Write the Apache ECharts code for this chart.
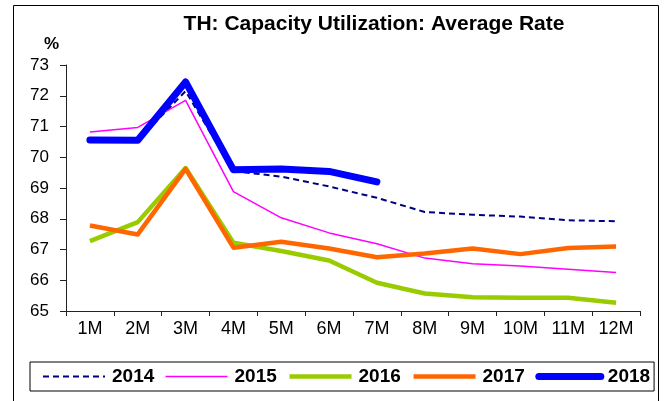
<!DOCTYPE html>
<html><head><meta charset="utf-8">
<script src="https://cdn.jsdelivr.net/npm/echarts@6/dist/echarts.min.js"></script>
<style>html,body{margin:0;padding:0;background:#fff}#c{width:667px;height:401px}</style>
</head><body><div id="c"></div>
<script>
var categories = ['1M','2M','3M','4M','5M','6M','7M','8M','9M','10M','11M','12M'];
var yTicks = [65, 66, 67, 68, 69, 70, 71, 72, 73];
var s2014 = [70.62, 70.55, 72.15, 69.55, 69.37, 69.05, 68.68, 68.22, 68.13, 68.07, 67.95, 67.92];
var s2015 = [70.82, 70.97, 71.85, 68.88, 68.03, 67.54, 67.19, 66.72, 66.54, 66.46, 66.36, 66.25];
var s2016 = [67.27, 67.89, 69.65, 67.22, 66.95, 66.64, 65.92, 65.57, 65.45, 65.43, 65.43, 65.27];
var s2017 = [67.78, 67.49, 69.62, 67.06, 67.25, 67.03, 66.75, 66.87, 67.03, 66.85, 67.05, 67.10];
var s2018 = [70.56, 70.55, 72.45, 69.59, 69.62, 69.54, 69.20, null, null, null, null, null];
var seriesNames = ['2014','2015','2016','2017','2018'];

var FONT = '"Liberation Sans", Arial, sans-serif';
var chart = echarts.init(document.getElementById('c'), null, {renderer: 'canvas'});
function mk(name, data, color, width, type, cap) {
  return {
    name: name, type: 'line', data: data, symbol: 'none', showSymbol: false,
    connectNulls: false, animation: false,
    lineStyle: {color: color, width: width, type: type || 'solid', cap: cap || 'butt', join: 'round'},
    itemStyle: {color: color}
  };
}
chart.setOption({
  backgroundColor: '#fff',
  animation: false,
  title: {
    text: 'TH: Capacity Utilization: Average Rate',
    left: 369, top: 9, textAlign: 'center',
    textStyle: {fontFamily: FONT, fontWeight: 'bold', fontSize: 21, color: '#000'}
  },
  graphic: [
    {type: 'rect', shape: {x: 13.5, y: 5.5, width: 645, height: 400}, style: {fill: 'none', stroke: '#000', lineWidth: 1}, silent: true},
    {type: 'text', left: 44, top: 36, style: {text: '%', fontFamily: FONT, fontWeight: 'bold', fontSize: 17, fill: '#000'}}
  ],
  legend: {
    data: seriesNames,
    left: 30, top: 362, width: 626,
    padding: [5, 4, 5, 12],
    itemGap: 10.5, itemWidth: 62, itemHeight: 14,
    borderColor: '#000', borderWidth: 1,
    itemStyle: {color: 'transparent', borderColor: 'transparent', borderWidth: 0, opacity: 0},
    lineStyle: {width: 'inherit', type: 'inherit', color: 'inherit', cap: 'inherit'},
    textStyle: {fontFamily: FONT, fontWeight: 'bold', fontSize: 19, color: '#000', padding: [0,0,0,2]}
  },
  grid: {left: 66, right: 27, top: 65, bottom: 90, containLabel: false},
  xAxis: {
    type: 'category', data: categories, boundaryGap: true,
    axisLine: {lineStyle: {color: '#222', width: 1}},
    axisTick: {show: true, length: 5, inside: false, lineStyle: {color: '#222'}},
    axisLabel: {fontFamily: FONT, fontSize: 18, color: '#000', margin: 9},
    splitLine: {show: false}
  },
  yAxis: {
    type: 'value', min: yTicks[0], max: yTicks[yTicks.length-1], interval: 1,
    axisLine: {show: true, lineStyle: {color: '#222', width: 1}},
    axisTick: {show: true, length: 6, inside: false, lineStyle: {color: '#222'}},
    axisLabel: {fontFamily: FONT, fontSize: 17, color: '#000', margin: 17},
    splitLine: {show: false}
  },
  series: [
    mk('2014', s2014, '#000080', 2, [6, 4]),
    mk('2015', s2015, '#FF00FF', 1.5),
    mk('2016', s2016, '#99CC00', 4.5),
    mk('2017', s2017, '#FF6600', 4.5),
    mk('2018', s2018, '#0000FF', 7, 'solid', 'round')
  ]
});
</script></body></html>
